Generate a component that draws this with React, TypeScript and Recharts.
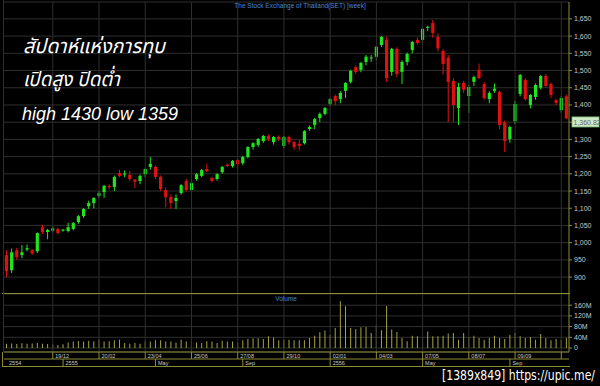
import { ComposedChart, BarChart, Bar, XAxis, YAxis, CartesianGrid, ReferenceLine } from "recharts";

// SET index, weekly candles (Oct 2554 - Nov 2556)
const openP = [
  964, 920, 978, 964, 980, 978, 975, 1045, 1031, 1035,
  1040, 1035, 1034, 1040, 1060, 1077, 1106, 1115, 1136, 1147,
  1165, 1162, 1202, 1198, 1197, 1183, 1179, 1199, 1220, 1220,
  1191, 1153, 1133, 1121, 1144, 1179, 1153, 1185, 1194, 1214,
  1188, 1185, 1205, 1227, 1223, 1240, 1231, 1249, 1278, 1284,
  1295, 1310, 1292, 1307, 1281, 1307, 1292, 1287, 1289, 1330,
  1342, 1362, 1374, 1403, 1426, 1417, 1441, 1467, 1510, 1502,
  1525, 1535, 1540, 1574, 1589, 1496, 1563, 1496, 1525, 1560,
  1589, 1589, 1624, 1638, 1598, 1557, 1537, 1470, 1391, 1464,
  1426, 1467, 1502, 1461, 1417, 1441, 1438, 1350, 1301, 1353,
  1432, 1473, 1400, 1423, 1450, 1484, 1461, 1414, 1385, 1425,
];
const highP = [
  978, 983, 985, 993, 995, 982, 1030, 1052, 1040, 1048,
  1044, 1040, 1058, 1060, 1080, 1100, 1122, 1132, 1150, 1168,
  1170, 1195, 1212, 1210, 1208, 1185, 1198, 1216, 1249, 1225,
  1195, 1160, 1140, 1140, 1170, 1185, 1176, 1202, 1214, 1230,
  1192, 1202, 1223, 1230, 1240, 1245, 1252, 1280, 1292, 1304,
  1313, 1314, 1310, 1312, 1310, 1311, 1296, 1298, 1327, 1340,
  1362, 1378, 1394, 1420, 1430, 1440, 1466, 1502, 1515, 1525,
  1545, 1545, 1572, 1600, 1598, 1566, 1568, 1530, 1552, 1586,
  1596, 1624, 1630, 1647, 1608, 1562, 1545, 1478, 1464, 1470,
  1458, 1485, 1520, 1466, 1440, 1462, 1442, 1355, 1340, 1412,
  1490, 1478, 1432, 1462, 1487, 1490, 1465, 1418, 1425, 1430,
];
const lowP = [
  900, 912, 950, 955, 975, 965, 970, 1025, 1010, 1030,
  1024, 1032, 1030, 1036, 1055, 1072, 1098, 1100, 1130, 1130,
  1155, 1150, 1190, 1190, 1180, 1158, 1170, 1190, 1212, 1185,
  1150, 1103, 1098, 1098, 1140, 1148, 1148, 1180, 1190, 1205,
  1175, 1180, 1200, 1220, 1218, 1215, 1225, 1245, 1270, 1278,
  1290, 1295, 1285, 1296, 1275, 1285, 1270, 1268, 1285, 1325,
  1330, 1350, 1370, 1398, 1400, 1405, 1420, 1462, 1490, 1495,
  1515, 1525, 1530, 1568, 1467, 1485, 1480, 1461, 1515, 1550,
  1575, 1580, 1615, 1595, 1555, 1488, 1350, 1350, 1342, 1435,
  1377, 1455, 1475, 1415, 1405, 1435, 1330, 1263, 1290, 1345,
  1425, 1412, 1390, 1415, 1445, 1450, 1420, 1400, 1378, 1359,
];
const closeP = [
  917, 972, 958, 972, 984, 969, 1028, 1031, 1037, 1042,
  1028, 1038, 1045, 1057, 1077, 1098, 1115, 1130, 1144, 1165,
  1161, 1191, 1194, 1201, 1185, 1177, 1194, 1214, 1229, 1191,
  1156, 1132, 1115, 1130, 1167, 1153, 1173, 1199, 1211, 1208,
  1179, 1199, 1220, 1223, 1237, 1228, 1249, 1278, 1289, 1301,
  1310, 1301, 1307, 1301, 1307, 1292, 1278, 1281, 1324, 1336,
  1359, 1374, 1391, 1417, 1411, 1435, 1464, 1499, 1496, 1522,
  1540, 1538, 1569, 1598, 1478, 1563, 1490, 1525, 1548, 1583,
  1580, 1621, 1627, 1609, 1564, 1519, 1467, 1400, 1452, 1444,
  1452, 1481, 1478, 1420, 1435, 1447, 1342, 1295, 1336, 1403,
  1487, 1417, 1429, 1458, 1484, 1455, 1429, 1406, 1420, 1360.82,
];
// volume in millions of shares
const volumeM = [
  16, 17, 15, 18, 16, 17, 19, 16, 15, 14,
  11, 14, 21, 24, 26, 24, 27, 25, 31, 24,
  25, 29, 31, 19, 16, 19, 16, 25, 24, 29,
  29, 24, 24, 21, 31, 24, 26, 21, 19, 25,
  24, 19, 27, 24, 24, 21, 29, 34, 36, 36,
  34, 44, 39, 29, 31, 31, 29, 29, 29, 37,
  46, 59, 65, 50, 75, 175, 156, 75, 71, 78,
  79, 56, 84, 66, 157, 69, 60, 37, 25, 46,
  44, 41, 62, 44, 44, 46, 54, 56, 31, 56,
  41, 46, 37, 31, 37, 46, 37, 34, 50, 56,
  44, 37, 41, 31, 52, 37, 29, 34, 31, 37,
];

const priceTicks = [900, 950, 1000, 1050, 1100, 1150, 1200, 1250, 1300, 1350, 1400, 1450, 1500, 1550, 1600, 1650];
const hiddenPriceLabel = 1350; // covered by the last-price tag
const volTicks = [0, 40, 80, 120, 160];
const weekTickIdx = [9, 18, 27, 36, 45, 54, 63, 72, 81, 90, 99, 108];
const weekTickLabels = ["19/12", "20/02", "23/04", "25/06", "27/08", "29/10", "02/01", "04/03", "07/05", "08/07", "09/09", ""];
const periodIdx = [0, 11, 29, 46, 63, 81, 98];
const periodLabels = ["2554", "2555", "May", "Sep", "2556", "May", "Sep"];

const data = openP.map((o, i) => ({
  i,
  open: o,
  high: highP[i],
  low: lowP[i],
  close: closeP[i],
  range: [lowP[i], highP[i]],
  vol: volumeM[i],
}));

const GREEN = "#1ee61e";
const RED = "#e01010";
const OLIVE = "#8c8c34";
const GRID = "#2f2f2f";
const AXIS_TXT = "#c8c8c8";
const BLUE = "#4a86d0";
const FONT = "'Liberation Sans', Arial, sans-serif";

const Candle = (props: any) => {
  const { x, y, width, height, payload } = props;
  if (x == null || !payload) return null;
  const top = Math.min(y, y + height);
  const h = Math.abs(height);
  const { open, close, high, low } = payload;
  const span = high - low || 1;
  const yOf = (v: number) => top + ((high - v) / span) * h;
  const color = close >= open ? GREEN : RED;
  const cx = x + width / 2;
  const b1 = yOf(Math.max(open, close));
  const b2 = yOf(Math.min(open, close));
  const bw = 3.2;
  return (
    <g>
      <line x1={cx} x2={cx} y1={top} y2={top + h} stroke={color} strokeWidth={1} />
      <rect x={cx - bw / 2} y={b1} width={bw} height={Math.max(b2 - b1, 1)} fill={color} />
    </g>
  );
};

const LastPriceTag = (props: any) => {
  const vb = props.viewBox || {};
  const x = (vb.x ?? 0) + (vb.width ?? 0) + 3;
  const y = vb.y ?? 0;
  return (
    <g>
      <rect x={x} y={y - 1.5} width={27} height={10} fill="#cfe8c8" stroke="#7bc47b" strokeWidth={0.8} />
      <text x={x + 1.5} y={y + 6.3} fontSize={7} fill="#666" fontFamily={FONT}>
        {closeP[closeP.length - 1].toLocaleString("en-US", { minimumFractionDigits: 2 })}
      </text>
    </g>
  );
};

const WeekTick = (props: any) => {
  const { x, y, payload } = props;
  const k = weekTickIdx.indexOf(payload.value);
  return (
    <g>
      <line x1={x} x2={x} y1={y} y2={y + 7} stroke={OLIVE} />
      <text x={x + 2.5} y={y + 5.6} fontSize={5.5} fill={AXIS_TXT} fontFamily={FONT}>
        {weekTickLabels[k]}
      </text>
    </g>
  );
};

const PeriodTick = (props: any) => {
  const { x, y, payload } = props;
  const k = periodIdx.indexOf(payload.value);
  return (
    <g>
      {k > 0 && <line x1={x} x2={x} y1={y} y2={y + 7} stroke={OLIVE} />}
      <text x={x + 2.5} y={y + 5.6} fontSize={5.5} fill={AXIS_TXT} fontFamily={FONT}>
        {periodLabels[k]}
      </text>
    </g>
  );
};

export default function App() {
  return (
    <div style={{ position: "absolute", left: 0, top: 0, width: 600, height: 386, background: "#000", overflow: "hidden" }}>
      {/* price pane */}
      <div style={{ position: "absolute", left: 0, top: 0 }}>
        <ComposedChart width={600} height={294} data={data} margin={{ top: 2, right: 0, left: 4, bottom: 0 }} barCategoryGap={0}>
          <CartesianGrid vertical={false} stroke={GRID} />
          <XAxis dataKey="i" type="category" hide />
          <YAxis
            orientation="right"
            width={31}
            domain={[851, 1699]}
            allowDataOverflow
            ticks={priceTicks}
            interval={0}
            tickFormatter={(v: number) => (v === hiddenPriceLabel ? "" : v.toLocaleString("en-US"))}
            tick={{ fill: AXIS_TXT, fontSize: 7, fontFamily: FONT }}
            axisLine={{ stroke: OLIVE }}
            tickLine={{ stroke: OLIVE }}
            tickSize={3}
            tickMargin={2}
          />
          {weekTickIdx.map((t) => (
            <ReferenceLine key={t} x={t} stroke={GRID} />
          ))}
          <Bar dataKey="range" shape={<Candle />} isAnimationActive={false} />
          <ReferenceLine y={closeP[closeP.length - 1]} stroke="none" label={<LastPriceTag />} />
        </ComposedChart>
      </div>

      {/* volume pane + date rows */}
      <div style={{ position: "absolute", left: 0, top: 294 }}>
        <BarChart width={600} height={72} data={data} margin={{ top: 0, right: 0, left: 4, bottom: 0 }}>
          <CartesianGrid vertical={false} stroke={GRID} />
          <XAxis
            xAxisId="a_week"
            dataKey="i"
            type="category"
            height={7}
            ticks={weekTickIdx}
            interval={0}
            tickLine={false}
            tickSize={0}
            tickMargin={0}
            axisLine={{ stroke: OLIVE }}
            tick={<WeekTick />}
          />
          <XAxis
            xAxisId="b_period"
            dataKey="i"
            type="category"
            height={7}
            ticks={periodIdx}
            interval={0}
            tickLine={false}
            tickSize={0}
            tickMargin={0}
            axisLine={{ stroke: OLIVE }}
            tick={<PeriodTick />}
          />
          <YAxis
            orientation="right"
            width={31}
            domain={[-15, 202]}
            allowDataOverflow
            ticks={volTicks}
            interval={0}
            tickFormatter={(v: number) => (v === 0 ? "0" : `${v}M`)}
            tick={{ fill: AXIS_TXT, fontSize: 7, fontFamily: FONT }}
            axisLine={{ stroke: OLIVE }}
            tickLine={{ stroke: OLIVE }}
            tickSize={3}
            tickMargin={2}
          />
          {weekTickIdx.map((t) => (
            <ReferenceLine key={t} x={t} xAxisId="a_week" stroke={GRID} />
          ))}
          <Bar xAxisId="a_week" dataKey="vol" fill="#a3a345" barSize={1} isAnimationActive={false} />
        </BarChart>
      </div>

      {/* frame lines */}
      <div style={{ position: "absolute", left: 2, top: 293, width: 568, height: 1, background: OLIVE }} />
      <div style={{ position: "absolute", left: 2, top: 352, width: 1, height: 15, background: OLIVE }} />
      <div style={{ position: "absolute", left: 2, top: 366, width: 568, height: 1, background: OLIVE }} />
      <div style={{ position: "absolute", left: 3, top: 0, width: 1, height: 352, background: GRID }} />

      {/* texts */}
      <svg width={600} height={386} style={{ position: "absolute", left: 0, top: 0, pointerEvents: "none" }}>
        <text x={300} y={8} textAnchor="middle" fontSize={6.5} fill={BLUE} fontFamily={FONT}>
          The Stock Exchange of Thailand(SET) [week]
        </text>
        <text x={286} y={301} textAnchor="middle" fontSize={6.5} fill={BLUE} fontFamily={FONT}>
          Volume
        </text>
        <g fill="#fff" fontStyle="italic" fontFamily="'Noto Sans Thai', 'Loma', 'Garuda', 'Tahoma', 'DejaVu Sans', sans-serif">
          <text x={23} y={53} fontSize={20} textLength={142} lengthAdjust="spacingAndGlyphs">สัปดาห์แห่งการทุบ</text>
          <text x={23} y={86} fontSize={20} textLength={97} lengthAdjust="spacingAndGlyphs">เปิดสูง ปิดต่ำ</text>
          <text x={22} y={120} fontSize={18} fontFamily={FONT} textLength={156} lengthAdjust="spacingAndGlyphs">high 1430 low 1359</text>
        </g>
        <g transform="translate(442,380) scale(1,1.3)">
          <text
            x={0}
            y={0}
            fontSize={10.5}
            fill="#fff"
            stroke="#000"
            strokeWidth={1.6}
            paintOrder="stroke"
            fontFamily="'DejaVu Sans Condensed', 'DejaVu Sans', sans-serif"
            textLength={153}
            lengthAdjust="spacingAndGlyphs"
          >
            [1389x849] https://upic.me/
          </text>
        </g>
      </svg>
    </div>
  );
}
